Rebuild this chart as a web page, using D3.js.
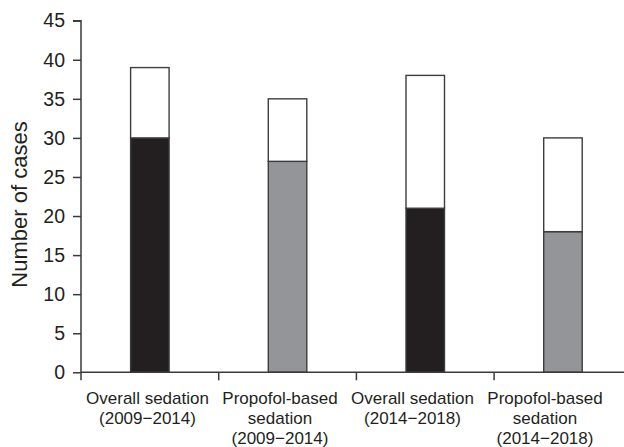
<!DOCTYPE html>
<html>
<head>
<meta charset="utf-8">
<script src="https://cdn.jsdelivr.net/npm/d3@7"></script>
<style>
  html, body { margin: 0; padding: 0; background: #ffffff; }
  svg { display: block; }
  text { font-family: "Liberation Sans", Arial, Helvetica, sans-serif; fill: #231f20; }
</style>
</head>
<body>
<svg id="chart" width="624" height="447"></svg>
<script>
// ---- Data ----
const categories = [
  "Overall sedation (2009−2014)",
  "Propofol-based sedation (2009−2014)",
  "Overall sedation (2014−2018)",
  "Propofol-based sedation (2014−2018)"
];
const categoryLines = [
  ["Overall sedation", "(2009−2014)"],
  ["Propofol-based", "sedation", "(2009−2014)"],
  ["Overall sedation", "(2014−2018)"],
  ["Propofol-based", "sedation", "(2014−2018)"]
];
const sedationType = ["Overall", "Propofol-based", "Overall", "Propofol-based"];
const lowerValues = [30, 27, 21, 18];
const totalValues = [39, 35, 38, 30];
const yTicks = [0, 5, 10, 15, 20, 25, 30, 35, 40, 45];
const yTitle = "Number of cases";

// ---- Layout ----
const svg = d3.select("#chart");
const W = 624, H = 447;
const x0 = 81, y0 = 372.3, yTop = 20.7;
const step = 137.7;

const x = d3.scaleBand()
  .domain(categories)
  .range([x0, x0 + step * categories.length])
  .paddingInner(0).paddingOuter(0);
const barW = 38.5;

const xLabel = d3.scalePoint()
  .domain(categories)
  .range([147.5, 545]);

const y = d3.scaleLinear().domain([0, 45]).range([y0, yTop]);

const fillScale = d3.scaleOrdinal()
  .domain(["Overall", "Propofol-based"])
  .range(["#231f20", "#939598"]);

const rows = categories.map((c, i) => ({
  cat: c, type: sedationType[i], lower: lowerValues[i], upper: totalValues[i] - lowerValues[i]
}));
const stack = d3.stack().keys(["lower", "upper"]);
const series = stack(rows);

const axisColor = "#3a3a3a";

// ---- Bars ----
const g = svg.append("g");
series.forEach(s => {
  g.selectAll(null)
    .data(s)
    .enter()
    .append("rect")
    .attr("x", d => x(d.data.cat) + (x.bandwidth() - barW) / 2)
    .attr("y", d => y(d[1]))
    .attr("width", barW)
    .attr("height", d => y(d[0]) - y(d[1]))
    .attr("fill", d => s.key === "lower" ? fillScale(d.data.type) : "#ffffff")
    .attr("stroke", "#3d3d3d")
    .attr("stroke-width", 1.4);
});

// ---- Y axis ----
const yAxis = d3.axisLeft(y)
  .tickValues(yTicks)
  .tickSize(8)
  .tickPadding(8)
  .tickFormat(d3.format("d"));
const yg = svg.append("g")
  .attr("transform", `translate(${x0},0)`)
  .call(yAxis);
yg.select(".domain").attr("stroke", axisColor).attr("stroke-width", 1.5)
  .attr("d", `M-8,${yTop}H0V${y0}`);
yg.selectAll(".tick line").attr("stroke", axisColor).attr("stroke-width", 1.5);
yg.selectAll(".tick text")
  .attr("font-size", 19.5)
  .attr("font-family", "Liberation Sans, Arial, sans-serif")
  .attr("fill", "#231f20");

// ---- X axis ----
const xg = svg.append("g");
xg.append("line")
  .attr("x1", x0).attr("x2", W)
  .attr("y1", y0).attr("y2", y0)
  .attr("stroke", axisColor).attr("stroke-width", 1.5);
xg.selectAll(".xtick")
  .data(categories)
  .enter()
  .append("line")
  .attr("class", "xtick")
  .attr("x1", d => x(d)).attr("x2", d => x(d))
  .attr("y1", y0).attr("y2", y0 + 8)
  .attr("stroke", axisColor).attr("stroke-width", 1.5);

const labels = xg.selectAll(".xlabel")
  .data(categories)
  .enter()
  .append("text")
  .attr("class", "xlabel")
  .attr("text-anchor", "middle")
  .attr("font-size", 17)
  .attr("x", d => xLabel(d))
  .attr("y", 404);
labels.each(function(d, i) {
  const t = d3.select(this);
  categoryLines[i].forEach((line, j) => {
    t.append("tspan")
      .attr("x", xLabel(d))
      .attr("y", 404 + j * 20)
      .text(line);
  });
});

// ---- Y title ----
svg.append("text")
  .attr("transform", `translate(27,${(y0 + yTop) / 2 + 8}) rotate(-90)`)
  .attr("text-anchor", "middle")
  .attr("font-size", 22)
  .text(yTitle);
</script>
</body>
</html>
